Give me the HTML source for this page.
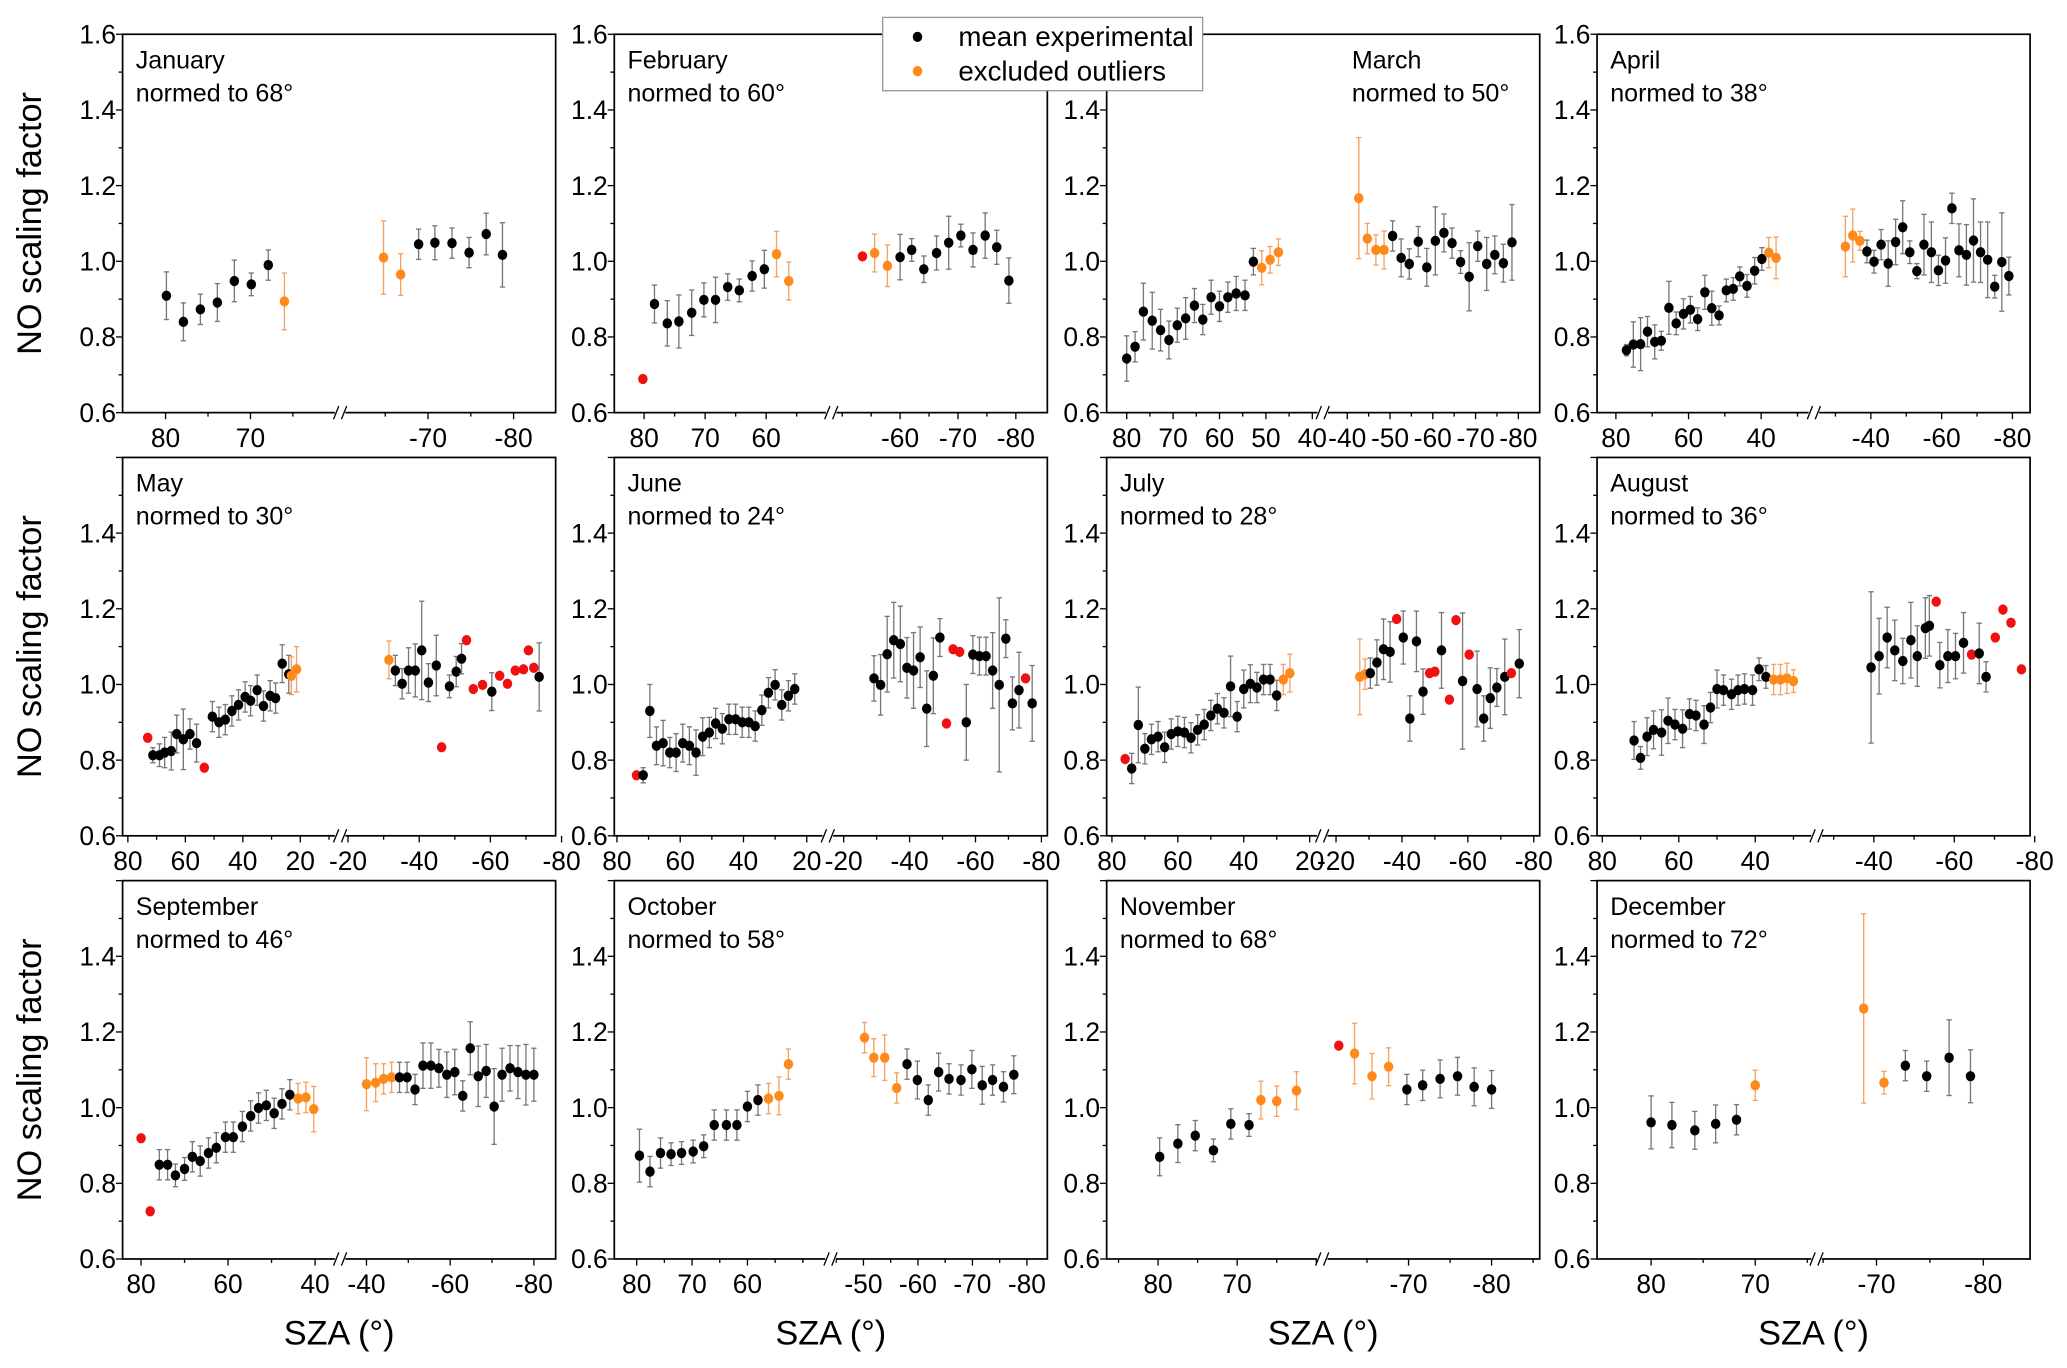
<!DOCTYPE html>
<html><head><meta charset="utf-8"><style>
html,body{margin:0;padding:0;background:#fff;}
svg{display:block;font-family:"Liberation Sans",Arial,sans-serif;}
</style></head><body>
<svg id="fig" width="2067" height="1368" viewBox="0 0 1568 1037.7" preserveAspectRatio="none" xmlns="http://www.w3.org/2000/svg"></svg>
<script>
// ---- data: [SZA, NO scaling factor, class (k=mean, o=excluded, r=red), error] ----
const janPts=[[79.9,.909,'k',.063],[77.9,.84,'k',.05],[75.9,.873,'k'],[73.9,.891,'k',.05],[71.9,.948,'k',.055],[69.9,.939,'k',.03],[67.9,.99,'k'],[66,.894,'o',.075],
[-64.8,1.01,'o',.097],[-66.8,.965,'o',.055],[-68.9,1.045,'k'],[-70.8,1.049,'k',.045],[-72.8,1.048,'k'],[-74.8,1.023,'k'],[-76.8,1.072,'k',.055],[-78.7,1.017,'k',.085]];
const febPts=[[80.2,.689,'r'],[78.3,.887,'k',.05],[76.2,.836,'k',.06],[74.3,.841,'k',.07],[72.2,.864,'k',.06],[70.2,.898,'k',.045],[68.3,.898,'k',.06],[66.3,.932,'k',.035],[64.4,.923,'k',.03],[62.3,.961,'k',.04],[60.3,.979,'k',.05],[58.3,1.019,'o',.06],[56.3,.948,'o',.05],
[-53.5,1.013,'r'],[-55.6,1.022,'o',.05],[-57.8,.988,'o',.055],[-60,1.011,'k',.06],[-62,1.03,'k',.03],[-64.1,.979,'k',.035],[-66.3,1.022,'k',.045],[-68.4,1.049,'k',.07],[-70.5,1.068,'k',.03],[-72.6,1.03,'k',.045],[-74.7,1.068,'k',.06],[-76.7,1.037,'k',.045],[-78.8,.949,'k',.06]];
const marPts=[[80,.743,'k',.06],[78.2,.774,'k',.04],[76.4,.867,'k',.075],[74.5,.843,'k',.075],[72.7,.818,'k',.055],[70.9,.792,'k',.05],[69.1,.831,'k',.045],[67.3,.849,'k',.055],[65.4,.883,'k',.045],[63.6,.846,'k',.04],[61.8,.905,'k',.045],[60,.881,'k',.04],[58.2,.905,'k',.04],[56.4,.915,'k',.045],[54.5,.91,'k',.04],[52.7,.999,'k',.035],[50.9,.983,'o',.045],[49.1,1.004,'o',.035],[47.3,1.024,'o',.035],
[-42.7,1.167,'o',.16],[-44.7,1.06,'o',.04],[-46.7,1.03,'o',.04],[-48.6,1.03,'o',.05],[-50.6,1.067,'k',.04],[-52.6,1.009,'k',.05],[-54.5,.993,'k',.04],[-56.6,1.052,'k',.04],[-58.6,.984,'k',.05],[-60.6,1.054,'k',.09],[-62.6,1.075,'k',.05],[-64.5,1.048,'k',.04],[-66.5,.998,'k',.03],[-68.5,.959,'k',.09],[-70.5,1.04,'k',.04],[-72.6,.993,'k',.07],[-74.5,1.017,'k',.05],[-76.5,.995,'k',.05],[-78.5,1.05,'k',.1]];
const aprPts=[[77.1,.765,'k',.015],[75.2,.78,'k',.06],[73.2,.781,'k',.07],[71.3,.814,'k',.04],[69.3,.787,'k',.045],[67.5,.79,'k',.025],[65.4,.877,'k',.07],[63.4,.836,'k',.03],[61.4,.861,'k',.04],[59.5,.872,'k',.035],[57.5,.847,'k',.03],[55.5,.918,'k',.045],[53.6,.876,'k',.045],[51.6,.857,'k',.025],[49.6,.923,'k',.03],[47.7,.927,'k',.03],[45.9,.96,'k',.025],[43.9,.935,'k',.03],[41.8,.975,'k',.035],[39.8,1.006,'k',.03],[37.9,1.023,'o',.04],[35.9,1.009,'o',.055],
[-32.8,1.039,'o',.08],[-34.9,1.068,'o',.07],[-36.9,1.054,'o',.025],[-38.9,1.026,'k',.03],[-40.9,.999,'k',.03],[-42.9,1.044,'k',.04],[-44.9,.994,'k',.06],[-47,1.051,'k',.06],[-49,1.09,'k',.07],[-51,1.024,'k',.03],[-53,.974,'k',.02],[-55,1.044,'k',.08],[-57.1,1.024,'k',.08],[-59.1,.976,'k',.04],[-61.1,1.002,'k',.06],[-62.9,1.14,'k',.04],[-64.9,1.029,'k',.07],[-67,1.017,'k',.08],[-69,1.055,'k',.11],[-71,1.024,'k',.08],[-73,1.004,'k',.1],[-75,.933,'k',.03],[-77,.998,'k',.13],[-79,.961,'k',.05]];
const mayPts=[[73.1,.859,'r'],[71.3,.813,'k',.02],[69,.813,'k',.03],[67.2,.82,'k',.04],[64.9,.824,'k',.05],[63,.869,'k',.05],[60.7,.855,'k',.08],[58.4,.869,'k',.04],[56.1,.845,'k',.05],[53.4,.78,'r'],[50.6,.915,'k',.04],[48.3,.9,'k'],[46.1,.907,'k'],[43.8,.93,'k'],[41.5,.946,'k'],[39.2,.967,'k'],[37.3,.957,'k'],[35,.985,'k'],[32.8,.943,'k'],[30.5,.97,'k'],[28.6,.964,'k'],[26.3,1.055,'k',.05],[24,1.027,'k',.05],[23.1,1.023,'o',.05],[21.3,1.04,'o',.06],
[-31.5,1.065,'o',.05],[-33.3,1.037,'k',.04],[-35.2,1.002,'k',.04],[-37,1.037,'k',.06],[-38.9,1.037,'k',.07],[-40.7,1.09,'k',.13],[-42.6,1.005,'k',.05],[-44.8,1.05,'k',.08],[-46.3,.834,'r'],[-48.5,.995,'k',.03],[-50.4,1.034,'k',.04],[-51.9,1.068,'k',.04],[-53.3,1.117,'r'],[-55.2,.988,'r'],[-57.8,.999,'r'],[-60.4,.981,'k',.05],[-62.6,1.023,'r'],[-64.8,1.002,'r'],[-67,1.037,'r'],[-69.3,1.04,'r'],[-70.7,1.09,'r'],[-72.2,1.044,'r'],[-73.7,1.02,'k',.09]];
const junPts=[[73.8,.76,'r'],[71.7,.76,'k',.02],[69.6,.93,'k',.07],[67.5,.838,'k',.05],[65.4,.845,'k',.06],[63.3,.82,'k',.04],[61.3,.82,'k',.05],[59.2,.845,'k',.05],[57.1,.838,'k',.05],[55,.82,'k',.06],[52.9,.862,'k',.05],[50.8,.873,'k'],[48.8,.897,'k'],[46.7,.883,'k'],[44.6,.908,'k'],[42.5,.908,'k'],[40.4,.9,'k'],[38.3,.9,'k'],[36.3,.89,'k'],[34.2,.932,'k'],[32.1,.978,'k'],[30,.999,'k'],[27.9,.946,'k'],[25.8,.97,'k'],[23.8,.988,'k'],
[-29.2,1.016,'k',.06],[-31.2,.999,'k',.08],[-33.2,1.08,'k',.1],[-35.2,1.117,'k',.1],[-37.2,1.107,'k',.1],[-39.2,1.044,'k',.08],[-41.2,1.037,'k',.1],[-43.2,1.072,'k',.08],[-45.2,.936,'k',.1],[-47.2,1.023,'k',.1],[-49.2,1.124,'k',.05],[-51.2,.897,'r'],[-53.2,1.093,'r'],[-55.2,1.086,'r'],[-57.2,.9,'k',.1],[-59.2,1.079,'k',.05],[-61.2,1.075,'k',.05],[-63.2,1.075,'k',.05],[-65.2,1.037,'k',.1],[-67.2,.999,'k',.23],[-69.2,1.121,'k',.05],[-71.2,.95,'k',.07],[-73.2,.985,'k',.1],[-75.2,1.016,'r'],[-77.2,.95,'k',.1]];
const julPts=[[76,.803,'r'],[74,.778,'k',.04],[72,.893,'k',.1],[70,.83,'k',.04],[68,.855,'k'],[66,.862,'k'],[64,.834,'k'],[62,.869,'k'],[60,.876,'k'],[58,.873,'k'],[56,.859,'k'],[54,.88,'k'],[52,.894,'k'],[50,.918,'k'],[48,.936,'k'],[46,.925,'k'],[44,.995,'k',.08],[42,.915,'k'],[40,.988,'k',.05],[38,1.002,'k',.05],[36,.992,'k',.04],[34,1.013,'k'],[32,1.013,'k'],[30,.971,'k'],[28,1.013,'o'],[26,1.03,'o',.05],
[-27.2,1.02,'o',.1],[-28.8,1.027,'o'],[-30.4,1.03,'k'],[-32.4,1.058,'k',.06],[-34.4,1.093,'k',.08],[-36.4,1.086,'k',.08],[-38.4,1.173,'r'],[-40.4,1.124,'k',.07],[-42.4,.91,'k',.06],[-44.4,1.114,'k',.08],[-46.4,.981,'k',.06],[-48.4,1.03,'r'],[-50,1.034,'r'],[-52,1.09,'k',.1],[-54.4,.96,'r'],[-56.4,1.17,'r'],[-58.4,1.009,'k',.18],[-60.4,1.079,'r'],[-62.8,.988,'k',.1],[-64.8,.91,'k',.06],[-66.8,.964,'k',.08],[-68.8,.992,'k',.05],[-71.2,1.02,'k',.1],[-73.2,1.03,'r'],[-75.6,1.055,'k',.09]];
const augPts=[[71.7,.852,'k',.05],[70,.806,'k',.03],[68.3,.862,'k',.05],[66.6,.88,'k',.05],[64.5,.873,'k',.06],[62.8,.904,'k',.06],[61,.894,'k'],[59,.883,'k',.05],[57.2,.922,'k'],[55.5,.918,'k'],[53.4,.894,'k',.05],[51.7,.939,'k'],[50,.988,'k',.05],[48.3,.985,'k'],[46.2,.974,'k'],[44.5,.985,'k'],[42.8,.988,'k'],[40.7,.985,'k'],[39,1.04,'k',.03],[37.2,1.02,'k',.03],[35.2,1.013,'o',.04],[33.4,1.013,'o',.04],[31.7,1.016,'o',.04],[30,1.009,'o',.03],
[-39.3,1.045,'k',.2],[-41.3,1.075,'k',.1],[-43.3,1.124,'k',.08],[-45.2,1.09,'k',.08],[-47.2,1.062,'k',.06],[-49.2,1.117,'k',.1],[-50.8,1.075,'k',.08],[-52.8,1.149,'k',.08],[-53.8,1.155,'k',.08],[-55.5,1.219,'r'],[-56.4,1.051,'k',.06],[-58.4,1.075,'k',.07],[-60.3,1.075,'k',.06],[-62.3,1.11,'k',.08],[-64.3,1.079,'r'],[-66.2,1.082,'k',.08],[-67.9,1.02,'k'],[-70.2,1.124,'r'],[-72.1,1.198,'r'],[-74.1,1.163,'r'],[-76.7,1.04,'r']];
const sepPts=[[80,.919,'r'],[77.9,.726,'r'],[75.8,.849,'k',.04],[73.9,.849,'k',.04],[72.1,.821,'k',.03],[70,.838,'k',.03],[68.2,.87,'k'],[66.4,.859,'k'],[64.5,.88,'k'],[62.7,.894,'k'],[60.6,.922,'k'],[58.8,.922,'k'],[56.7,.95,'k'],[54.8,.978,'k'],[53,.999,'k'],[51.2,1.006,'k'],[49.4,.985,'k'],[47.6,1.01,'k'],[45.8,1.034,'k'],[43.9,1.024,'o',.04],[42.1,1.027,'o',.04],[40.3,.996,'o',.06],
[-40,1.062,'o',.07],[-42.2,1.066,'o',.05],[-44.1,1.076,'o'],[-46,1.08,'o'],[-47.9,1.08,'k'],[-49.7,1.08,'k'],[-51.6,1.048,'k'],[-53.5,1.111,'k',.06],[-55.4,1.111,'k',.06],[-57.3,1.104,'k',.05],[-59.2,1.087,'k',.06],[-61.1,1.094,'k',.06],[-63,1.031,'k',.04],[-64.8,1.157,'k',.07],[-66.7,1.083,'k',.08],[-68.6,1.097,'k',.07],[-70.5,1.003,'k',.1],[-72.4,1.087,'k',.07],[-74.3,1.104,'k',.06],[-76.2,1.094,'k',.07],[-78.1,1.087,'k',.08],[-80,1.087,'k',.07]];
const octPts=[[79.5,.873,'k',.07],[77.6,.831,'k',.04],[75.7,.88,'k',.04],[73.8,.877,'k',.03],[71.9,.88,'k',.03],[69.8,.884,'k',.03],[67.9,.898,'k',.03],[66,.954,'k',.04],[63.8,.954,'k'],[61.9,.954,'k'],[60,1.003,'k'],[58.1,1.02,'k'],[56.2,1.024,'o',.04],[54.3,1.031,'o',.05],[52.6,1.115,'o',.04],
[-50.2,1.185,'o',.04],[-51.9,1.132,'o',.05],[-53.9,1.132,'o',.06],[-56.1,1.052,'o',.04],[-58,1.115,'k',.04],[-59.9,1.073,'k',.05],[-61.9,1.02,'k',.04],[-63.8,1.094,'k',.05],[-65.7,1.076,'k',.04],[-67.9,1.073,'k',.04],[-69.9,1.101,'k',.05],[-71.8,1.059,'k',.05],[-73.7,1.073,'k',.04],[-75.7,1.055,'k',.04],[-77.6,1.087,'k',.05]];
const novPts=[[79.8,.87,'k',.05],[77.5,.905,'k',.05],[75.3,.926,'k',.04],[73,.887,'k',.03],[70.8,.957,'k',.04],[68.5,.954,'k',.03],[67,1.02,'o',.05],[65,1.017,'o',.04],[62.5,1.045,'o',.05],
[-61.6,1.164,'r'],[-63.5,1.143,'o',.08],[-65.6,1.083,'o',.06],[-67.6,1.108,'o',.05],[-69.8,1.048,'k',.04],[-71.7,1.059,'k',.04],[-73.8,1.076,'k',.05],[-75.9,1.083,'k',.05],[-77.9,1.055,'k',.05],[-80,1.048,'k',.05]];
const decPts=[[80,.961,'k',.07],[78,.954,'k',.06],[75.8,.94,'k',.05],[73.8,.957,'k',.05],[71.8,.968,'k',.04],[70,1.059,'o',.04],
[-68.8,1.262,'o',.25],[-70.7,1.066,'o',.03],[-72.7,1.111,'k',.04],[-74.7,1.083,'k',.04],[-76.8,1.132,'k',.1],[-78.8,1.083,'k',.07]];
// tick labels
const ticksJan=[80,70,-70,-80], ticksFeb=[80,70,60,-60,-70,-80], ticksMar=[80,70,60,50,40,-40,-50,-60,-70,-80];
const ticksApr=[80,60,40,-40,-60,-80], ticksMJJ=[80,60,40,20,-20,-40,-60,-80], ticksAug=[80,60,40,-40,-60,-80];
const ticksSep=[80,60,40,-40,-60,-80], ticksOct=[80,70,60,-50,-60,-70,-80], ticksND=[80,70,-70,-80];
const yTicksTop=[0.6,0.8,1.0,1.2,1.4,1.6], yTicksLow=[0.6,0.8,1.0,1.2,1.4];

// ---- layout (not data) ----
const NS='http://www.w3.org/2000/svg';
const svg=document.getElementById('fig');
const colL=[93,466,839.5,1211.5], PW=328.5, rowT=[26,347,668], PH=287;
const panels=[
 {m:'January',n:68,c:0,r:0,pts:janPts,t:ticksJan,L:[80,125.6,70,190],R:[-70,324.7,-80,389.6],b:258,lx:0},
 {m:'February',n:60,c:1,r:0,pts:febPts,t:ticksFeb,L:[80,488.6,60,581.2],R:[-60,682.8,-80,770.6],b:630.6,lx:0},
 {m:'March',n:50,c:2,r:0,pts:marPts,t:ticksMar,L:[80,854.7,40,995.5],R:[-40,1022,-80,1151.8],b:1003.4,lx:1025.5},
 {m:'April',n:38,c:3,r:0,pts:aprPts,t:ticksApr,L:[80,1225.8,40,1336],R:[-40,1419.2,-80,1526.6],b:1376,lx:0},
 {m:'May',n:30,c:0,r:1,pts:mayPts,t:ticksMJJ,L:[80,97,20,227.8],R:[-20,264,-80,426],b:258,lx:0},
 {m:'June',n:24,c:1,r:1,pts:junPts,t:ticksMJJ,L:[80,468,20,612],R:[-20,640,-80,790],b:628,lx:0},
 {m:'July',n:28,c:2,r:1,pts:julPts,t:ticksMJJ,L:[80,843.5,20,993.5],R:[-20,1013.5,-80,1163.5],b:1003,lx:0},
 {m:'August',n:36,c:3,r:1,pts:augPts,t:ticksAug,L:[80,1215.5,40,1331.5],R:[-40,1421.5,-80,1543.5],b:1378,lx:0},
 {m:'September',n:46,c:0,r:2,pts:sepPts,t:ticksSep,L:[80,107,40,239],R:[-40,278,-80,405],b:258,lx:0},
 {m:'October',n:58,c:1,r:2,pts:octPts,t:ticksOct,L:[80,483,60,567],R:[-50,655,-80,779],b:630,lx:0},
 {m:'November',n:68,c:2,r:2,pts:novPts,t:ticksND,L:[80,878.5,70,938.5],R:[-70,1068.5,-80,1131.5],b:1003,lx:0},
 {m:'December',n:72,c:3,r:2,pts:decPts,t:ticksND,L:[80,1252.5,70,1331.5],R:[-70,1423.5,-80,1504.5],b:1378,lx:0}
];
const COL={k:'#000',o:'#ff8a1c',r:'#f01010'}, ECOL={k:'#777',o:'#f7a060',r:'#f01010'};
function mk(tag,attrs,parent){const e=document.createElementNS(NS,tag);for(const k in attrs)e.setAttribute(k,attrs[k]);(parent||svg).appendChild(e);return e;}
function lin(a,d){return a[1]+(d-a[0])*(a[3]-a[1])/(a[2]-a[0]);}

panels.forEach(p=>{
  const x0=colL[p.c], y0=rowT[p.r], x1=x0+PW, y1=y0+PH;
  const xf=d=>d>0?lin(p.L,d):lin(p.R,d);
  const yf=v=>y0+(1.6-v)*PH;
  const g=mk('g',{});
  
  
  const fr=mk('rect',{x:x0,y:y0,width:PW,height:PH,fill:'none',stroke:'#000','stroke-width':1.3},g);
  
  
  const yt=p.r===0?yTicksTop:yTicksLow;
  for(let v=0.6;v<=1.601;v+=0.1){const y=yf(v);const maj=Math.abs(Math.round(v*10)%2)===0;
    mk('line',{x1:x0,x2:x0-(maj?5:3),y1:y,y2:y,stroke:'#000','stroke-width':1},g);}
  yt.forEach(v=>{const t=mk('text',{x:x0-5,y:yf(v)+7,'text-anchor':'end','font-size':20},g);t.textContent=v.toFixed(1);
    
    });
  p.t.forEach(d=>{const x=xf(d);mk('line',{x1:x,x2:x,y1:y1,y2:y1+5,stroke:'#000','stroke-width':1},g);
    const t=mk('text',{x:x,y:y1+26,'text-anchor':'middle','font-size':20},g);t.textContent=String(d);
    
    });
  const stepL=Math.abs(p.t[0]-p.t[1])/2;
  for(let d=90;d>0;d-=stepL){const x=lin(p.L,d);if(x>x0+2&&x<p.b-4&&p.t.indexOf(d)<0)mk('line',{x1:x,x2:x,y1:y1,y2:y1+3,stroke:'#000'},g);}
  for(let d=-10;d>=-90;d-=stepL){const x=lin(p.R,d);if(x>p.b+4&&x<x1-2&&p.t.indexOf(d)<0)mk('line',{x1:x,x2:x,y1:y1,y2:y1+3,stroke:'#000'},g);}
  const bk=mk('g',{},g);
  
  
  mk('rect',{x:p.b-4,y:y1-2,width:8,height:4,fill:'#fff'},bk);
  mk('line',{x1:p.b-5,y1:y1+5,x2:p.b-1,y2:y1-5,stroke:'#000'},bk);
  mk('line',{x1:p.b+1,y1:y1+5,x2:p.b+5,y2:y1-5,stroke:'#000'},bk);
  const lx=p.lx||x0+10;
  const t1=mk('text',{x:lx,y:y0+26,'font-size':19},g);t1.textContent=p.m;
  
  
  const t2=mk('text',{x:lx,y:y0+51,'font-size':19},g);t2.textContent='normed to '+p.n+'°';
  
  
  p.pts.forEach(q=>{const x=xf(q[0]),y=yf(q[1]),e=q[3]||(q[2]==='r'?0:0.04);
    if(e>0){const ya=yf(q[1]+e),yb=yf(q[1]-e);
      mk('line',{x1:x,x2:x,y1:ya,y2:yb,stroke:ECOL[q[2]],'stroke-width':1},g);
      mk('line',{x1:x-2,x2:x+2,y1:ya,y2:ya,stroke:ECOL[q[2]],'stroke-width':1},g);
      mk('line',{x1:x-2,x2:x+2,y1:yb,y2:yb,stroke:ECOL[q[2]],'stroke-width':1},g);}
    const c=mk('ellipse',{cx:x,cy:y,rx:3.6,ry:3.9,fill:COL[q[2]]},g);
    
    
  });
});
rowT.forEach(t=>{const e=mk('text',{x:0,y:0,'font-size':26,'text-anchor':'middle',transform:'translate(31,'+(t+PH/2)+') rotate(-90)'});e.textContent='NO scaling factor';
  
  });
colL.forEach(l=>{const e=mk('text',{x:l+PW/2,y:1020,'font-size':26,'text-anchor':'middle'});e.textContent='SZA (°)';
  
  });
const lg=mk('g',{});


mk('rect',{x:669.6,y:13.2,width:242.7,height:55.6,fill:'#fff',stroke:'#999','stroke-width':1},lg);
[['mean experimental','k',28],['excluded outliers','o',54]].forEach(a=>{
  const en=mk('g',{},lg);
  
  
  mk('ellipse',{cx:696,cy:a[2],rx:3.6,ry:3.9,fill:COL[a[1]]},en);
  const t=mk('text',{x:727,y:a[2]+7,'font-size':21},en);t.textContent=a[0];});
</script>
</body></html>
